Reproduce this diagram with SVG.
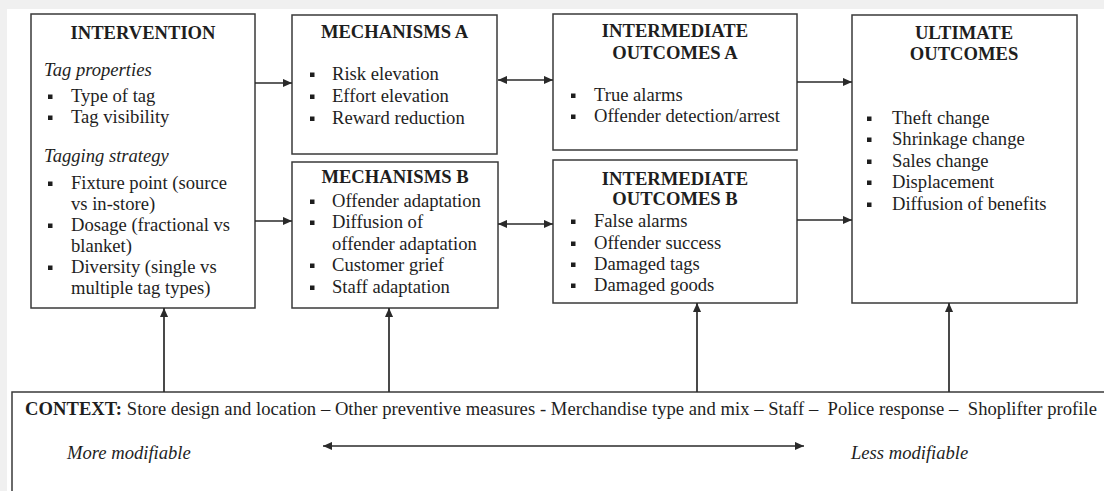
<svg xmlns="http://www.w3.org/2000/svg" width="1104" height="491" viewBox="0 0 1104 491">
<defs>
<style>
.box{fill:#fff;stroke:#3a3a3a;stroke-width:1.5}
.t{font-family:"Liberation Serif","Times New Roman",serif;font-size:18.6px;fill:#1e1e1e}
.h{font-weight:bold;text-anchor:middle}
.i{font-style:italic}
.b{fill:#1e1e1e}
.c{stroke:#2a2a2a;stroke-width:1.7;fill:none}
</style>
<marker id="ah" viewBox="0 0 10 10" refX="10" refY="5" markerWidth="9" markerHeight="9" markerUnits="userSpaceOnUse" orient="auto-start-reverse">
<path d="M0,0.5 L10,5 L0,9.5 z" fill="#2a2a2a"/>
</marker>
</defs>
<rect x="0" y="0" width="1104" height="491" fill="#fff"/>
<rect x="0" y="0" width="1104" height="9" fill="#f0f0f0"/>
<rect x="0" y="0" width="7" height="491" fill="#f0f0f0"/>

<g id="intervention">
<rect class="box" x="31" y="14" width="224" height="294"/>
<text class="t h" x="143" y="39">INTERVENTION</text>
<text class="t i" x="44" y="76">Tag properties</text>
<rect class="b" x="48" y="94.5" width="4.5" height="4.5"/>
<text class="t" x="71" y="102">Type of tag</text>
<rect class="b" x="48" y="115.5" width="4.5" height="4.5"/>
<text class="t" x="71" y="123">Tag visibility</text>
<text class="t i" x="44" y="162">Tagging strategy</text>
<rect class="b" x="48" y="181.5" width="4.5" height="4.5"/>
<text class="t" x="71" y="189">Fixture point (source</text>
<text class="t" x="71" y="210">vs in-store)</text>
<rect class="b" x="48" y="223.5" width="4.5" height="4.5"/>
<text class="t" x="71" y="231">Dosage (fractional vs</text>
<text class="t" x="71" y="252">blanket)</text>
<rect class="b" x="48" y="265.5" width="4.5" height="4.5"/>
<text class="t" x="71" y="273">Diversity (single vs</text>
<text class="t" x="71" y="294">multiple tag types)</text>
</g>

<g id="mechanisms-a">
<rect class="box" x="292" y="15" width="205" height="139"/>
<text class="t h" x="394.5" y="38">MECHANISMS A</text>
<rect class="b" x="310" y="72.5" width="4.5" height="4.5"/>
<text class="t" x="332" y="80">Risk elevation</text>
<rect class="b" x="310" y="94.5" width="4.5" height="4.5"/>
<text class="t" x="332" y="102">Effort elevation</text>
<rect class="b" x="310" y="116.5" width="4.5" height="4.5"/>
<text class="t" x="332" y="124">Reward reduction</text>
</g>

<g id="mechanisms-b">
<rect class="box" x="292" y="162" width="206" height="146"/>
<text class="t h" x="395" y="183">MECHANISMS B</text>
<rect class="b" x="310" y="199.5" width="4.5" height="4.5"/>
<text class="t" x="332" y="207">Offender adaptation</text>
<rect class="b" x="310" y="220.5" width="4.5" height="4.5"/>
<text class="t" x="332" y="228">Diffusion of</text>
<text class="t" x="332" y="250">offender adaptation</text>
<rect class="b" x="310" y="263.5" width="4.5" height="4.5"/>
<text class="t" x="332" y="271">Customer grief</text>
<rect class="b" x="310" y="285.5" width="4.5" height="4.5"/>
<text class="t" x="332" y="293">Staff adaptation</text>
</g>

<g id="intermediate-a">
<rect class="box" x="553" y="14" width="244" height="136"/>
<text class="t h" x="675" y="37">INTERMEDIATE</text>
<text class="t h" x="675" y="59">OUTCOMES A</text>
<rect class="b" x="571" y="93.5" width="4.5" height="4.5"/>
<text class="t" x="594" y="101">True alarms</text>
<rect class="b" x="571" y="114.5" width="4.5" height="4.5"/>
<text class="t" x="594" y="122">Offender detection/arrest</text>
</g>

<g id="intermediate-b">
<rect class="box" x="553" y="160" width="244" height="143"/>
<text class="t h" x="675" y="185">INTERMEDIATE</text>
<text class="t h" x="675" y="205">OUTCOMES B</text>
<rect class="b" x="571" y="219.5" width="4.5" height="4.5"/>
<text class="t" x="594" y="227">False alarms</text>
<rect class="b" x="571" y="241.5" width="4.5" height="4.5"/>
<text class="t" x="594" y="249">Offender success</text>
<rect class="b" x="571" y="262.5" width="4.5" height="4.5"/>
<text class="t" x="594" y="270">Damaged tags</text>
<rect class="b" x="571" y="283.5" width="4.5" height="4.5"/>
<text class="t" x="594" y="291">Damaged goods</text>
</g>

<g id="ultimate">
<rect class="box" x="852" y="15" width="225" height="288"/>
<text class="t h" x="964" y="39">ULTIMATE</text>
<text class="t h" x="964" y="60">OUTCOMES</text>
<rect class="b" x="867" y="116.5" width="4.5" height="4.5"/>
<text class="t" x="892" y="124">Theft change</text>
<rect class="b" x="867" y="137.5" width="4.5" height="4.5"/>
<text class="t" x="892" y="145">Shrinkage change</text>
<rect class="b" x="867" y="159.5" width="4.5" height="4.5"/>
<text class="t" x="892" y="167">Sales change</text>
<rect class="b" x="867" y="180.5" width="4.5" height="4.5"/>
<text class="t" x="892" y="188">Displacement</text>
<rect class="b" x="867" y="202.5" width="4.5" height="4.5"/>
<text class="t" x="892" y="210">Diffusion of benefits</text>
</g>

<g id="context">
<rect class="box" x="12" y="392" width="1110" height="120"/>
<text class="t" x="25" y="415" style="white-space:pre" textLength="1072" lengthAdjust="spacing"><tspan font-weight="bold">CONTEXT:</tspan> Store design and location – Other preventive measures - Merchandise type and mix – Staff –  Police response –  Shoplifter profile</text>
<text class="t i" x="67" y="459">More modifiable</text>
<text class="t i" x="851" y="459">Less modifiable</text>
</g>

<g id="connectors">
<line class="c" x1="255" y1="83" x2="292" y2="83" marker-end="url(#ah)"/>
<line class="c" x1="255" y1="221" x2="292" y2="221" marker-end="url(#ah)"/>
<line class="c" x1="498" y1="80" x2="553" y2="80" marker-start="url(#ah)" marker-end="url(#ah)"/>
<line class="c" x1="498" y1="224" x2="553" y2="224" marker-start="url(#ah)" marker-end="url(#ah)"/>
<line class="c" x1="797" y1="82" x2="852" y2="82" marker-end="url(#ah)"/>
<line class="c" x1="797" y1="220" x2="852" y2="220" marker-end="url(#ah)"/>
<line class="c" x1="164" y1="392" x2="164" y2="308" marker-end="url(#ah)"/>
<line class="c" x1="389" y1="392" x2="389" y2="308" marker-end="url(#ah)"/>
<line class="c" x1="697" y1="392" x2="697" y2="303" marker-end="url(#ah)"/>
<line class="c" x1="949" y1="392" x2="949" y2="303" marker-end="url(#ah)"/>
<line class="c" x1="323" y1="446" x2="804" y2="446" marker-start="url(#ah)" marker-end="url(#ah)"/>
</g>
</svg>
